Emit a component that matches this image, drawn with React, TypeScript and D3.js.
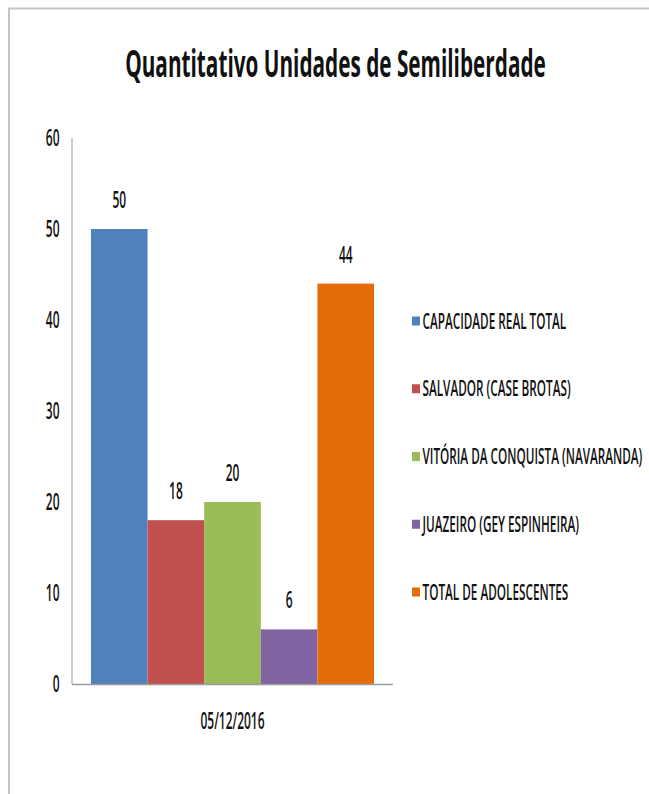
import React from "react";
import * as d3 from "d3";

const categories = ["05/12/2016"];
const seriesNames = [
  "CAPACIDADE REAL TOTAL",
  "SALVADOR (CASE BROTAS)",
  "VITÓRIA DA CONQUISTA (NAVARANDA)",
  "JUAZEIRO (GEY ESPINHEIRA)",
  "TOTAL DE ADOLESCENTES",
];
const seriesValues = [50, 18, 20, 6, 44];
const seriesColors = ["#4F81BD", "#C0504D", "#9BBB59", "#8064A2", "#E46C0A"];
const yTicks = [0, 10, 20, 30, 40, 50, 60];
const title = "Quantitativo Unidades de Semiliberdade";

const W = 649;
const H = 794;
const FONT = "'Open Sans', 'DejaVu Sans Condensed', sans-serif";
const SX = 0.52;

function SText(props: {
  x: number;
  y: number;
  size: number;
  anchor?: string;
  weight?: string | number;
  sx?: number;
  children: React.ReactNode;
}) {
  const { x, y, size, anchor = "start", weight = 600, sx = SX, children } = props;
  return (
    <text
      transform={`translate(${x},${y}) scale(${sx},1)`}
      fontFamily={FONT}
      fontSize={size}
      fontWeight={weight}
      textAnchor={anchor}
      fill="#111"
    >
      {children}
    </text>
  );
}

export default function App() {
  const plotLeft = 72;
  const plotRight = 393;
  const y = d3.scaleLinear().domain([0, 60]).range([684, 138]);
  const xCat = d3
    .scaleBand<string>()
    .domain(categories)
    .range([plotLeft, plotRight])
    .paddingInner(0)
    .paddingOuter(0.067);
  const cat = categories[0];
  const xSer = d3
    .scaleBand<string>()
    .domain(seriesNames)
    .range([xCat(cat)!, xCat(cat)! + xCat.bandwidth()])
    .padding(0);

  const legendY = d3
    .scalePoint<string>()
    .domain(seriesNames)
    .range([321, 592]);

  return (
    <svg
      width={W}
      height={H}
      style={{ position: "absolute", left: 0, top: 0, background: "#fff" }}
    >
      <rect x={0} y={0} width={W} height={H} fill="#fff" />
      <rect
        x={9}
        y={8.5}
        width={W + 50}
        height={H + 50}
        fill="#fff"
        stroke="#c4c4c4"
        strokeWidth={2}
      />
      <SText x={335.5} y={77} size={38} weight="bold" anchor="middle" sx={0.546}>
        {title}
      </SText>

      {/* y axis labels */}
      {yTicks.map((t) => (
        <SText key={t} x={59.5} y={y(t) + 8} size={23} anchor="end">
          {t}
        </SText>
      ))}

      {/* bars */}
      {seriesNames.map((s, i) => (
        <rect
          key={s}
          x={xSer(s)!}
          y={y(seriesValues[i])}
          width={xSer.bandwidth()}
          height={y(0) - y(seriesValues[i])}
          fill={seriesColors[i]}
        />
      ))}

      {/* axes */}
      <line x1={plotLeft} x2={plotLeft} y1={138} y2={y(0)} stroke="#bdbdbd" strokeWidth={1.5} />
      <line x1={plotLeft} x2={plotRight} y1={y(0) + 0.5} y2={y(0) + 0.5} stroke="#9a9a9a" strokeWidth={1.5} />

      {/* value labels */}
      {seriesNames.map((s, i) => (
        <SText
          key={s}
          x={xSer(s)! + xSer.bandwidth() / 2}
          y={y(seriesValues[i]) - 21}
          size={23}
          anchor="middle"
        >
          {seriesValues[i]}
        </SText>
      ))}

      {/* category label */}
      <SText x={xCat(cat)! + xCat.bandwidth() / 2} y={729} size={23} anchor="middle">
        {cat}
      </SText>

      {/* legend */}
      {seriesNames.map((s, i) => (
        <g key={s}>
          <rect x={412} y={legendY(s)! - 4.5} width={8} height={9} fill={seriesColors[i]} />
          <SText x={422.5} y={legendY(s)! + 7.5} size={21} anchor="start" sx={0.56}>
            {s}
          </SText>
        </g>
      ))}
    </svg>
  );
}
